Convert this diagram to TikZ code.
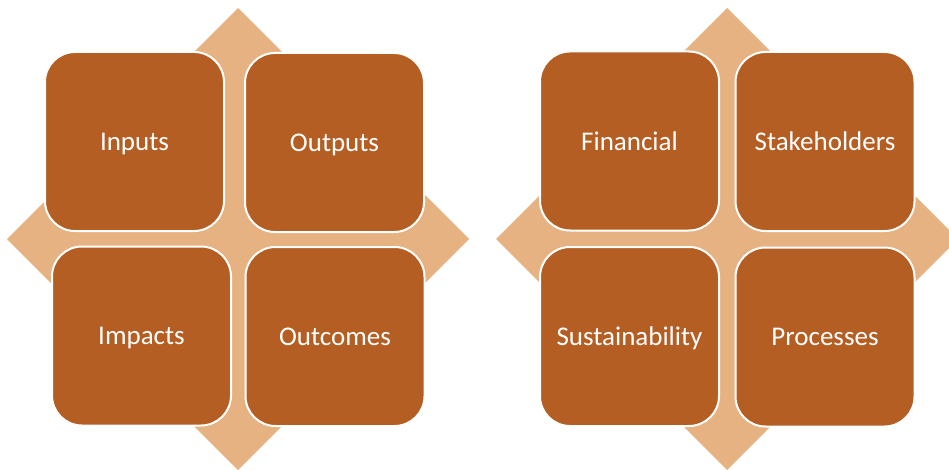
\documentclass[tikz,border=0pt]{standalone}
\usepackage{fontspec}
\setmainfont{Carlito}
\definecolor{rust}{HTML}{B45E23}
\definecolor{sand}{HTML}{E7B282}
% four-way arrow behind each matrix, #1 is its centre
\newcommand*{\fourway}[1]{%
	\fill[sand,shift={#1}]
		(0,-231) -- (75,-156) -- (25,-156) -- (25,-25) -- (156,-25) -- (156,-75)
		-- (231,0) -- (156,75) -- (156,25) -- (25,25) -- (25,156) -- (75,156)
		-- (0,231) -- (-75,156) -- (-25,156) -- (-25,25) -- (-156,25) -- (-156,75)
		-- (-231,0) -- (-156,-75) -- (-156,-25) -- (-25,-25) -- (-25,-156) -- (-75,-156)
		-- cycle;}
\tikzset{cell/.style={draw=white,line width=2pt,fill=rust,rounded corners=30pt,
	minimum width=179pt,minimum height=179pt,text=white,text depth=0pt,
	font=\fontsize{27}{31}\selectfont}}

\begin{document}
\begin{tikzpicture}[x=1pt,y=-1pt]
	\clip (0,0) rectangle (949,470);
	\fourway{(238,239)}
	\fourway{(727,239)}
	% left matrix
	\node[cell] (inputs)   at (134.5,141.5) {Inputs};
	\node[cell] (outputs)  at (334.5,142.5) {Outputs};
	\node[cell] (impacts)  at (141.5,336)   {Impacts};
	\node[cell] (outcomes) at (335,336.5)   {Outcomes};
	% right matrix
	\node[cell] (financial) at (629.5,141) {Financial};
	\node[cell] (stake)     at (825,141.5) {Stakeholders};
	\node[cell] (sustain)   at (629.5,336.5) {Sustainability};
	\node[cell] (process)   at (825,337)   {Processes};
\end{tikzpicture}
\end{document}
